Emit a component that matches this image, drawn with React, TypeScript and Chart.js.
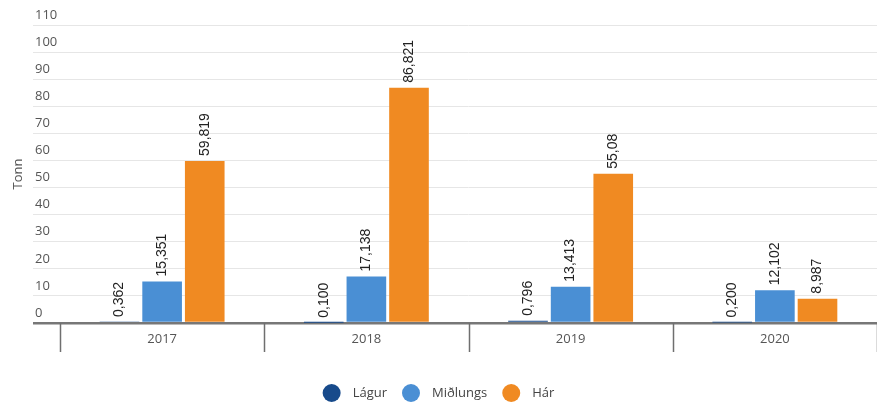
import { useEffect, useRef } from 'react';
import { Chart, registerables } from 'chart.js';

Chart.register(...registerables);

const years = ['2017', '2018', '2019', '2020'];
const seriesNames = ['Lágur', 'Miðlungs', 'Hár'];
const lagur = [0.362, 0.1, 0.796, 0.2];
const midlungs = [15.351, 17.138, 13.413, 12.102];
const har = [59.819, 86.821, 55.08, 8.987];
const lagurLabels = ['0,362', '0,100', '0,796', '0,200'];
const midlungsLabels = ['15,351', '17,138', '13,413', '12,102'];
const harLabels = ['59,819', '86,821', '55,08', '8,987'];
const yMax = 110;
const yStep = 10;
const yTitle = 'Tonn';

const colors = ['#174a8b', '#4a8fd4', '#f08a22'];
const FONT = '"Open Sans", "Noto Sans", sans-serif';

const valueLabels = [lagurLabels, midlungsLabels, harLabels];

const barLabelPlugin = {
  id: 'barLabels',
  afterDatasetsDraw(chart: any) {
    const ctx = chart.ctx;
    ctx.save();
    ctx.fillStyle = '#222';
    ctx.font = '14px "Liberation Sans", Arial, sans-serif';
    ctx.textAlign = 'left';
    ctx.textBaseline = 'middle';
    chart.data.datasets.forEach((_ds: any, i: number) => {
      const meta = chart.getDatasetMeta(i);
      meta.data.forEach((bar: any, j: number) => {
        const { x, y } = bar.getProps(['x', 'y'], true);
        ctx.save();
        ctx.translate(x, y - 5);
        ctx.rotate(-Math.PI / 2);
        ctx.fillText(valueLabels[i][j], 0, 0);
        ctx.restore();
      });
    });
    ctx.restore();
  },
};

// category separator tick marks below the axis, positioned from the x scale
const categoryTicksPlugin = {
  id: 'categoryTicks',
  afterDraw(chart: any) {
    const xs = chart.scales.x;
    const ctx = chart.ctx;
    const n = chart.data.labels.length;
    const half = (xs.getPixelForValue(1) - xs.getPixelForValue(0)) / 2;
    const top = chart.chartArea.bottom;
    ctx.save();
    ctx.strokeStyle = '#6f6f6f';
    ctx.lineWidth = 1.5;
    for (let i = 0; i <= n; i++) {
      const x = Math.round(xs.getPixelForValue(0) - half + i * 2 * half) + 0.5;
      ctx.beginPath();
      ctx.moveTo(x, top);
      ctx.lineTo(x, top + 29);
      ctx.stroke();
    }
    ctx.restore();
  },
};

const legendPlugin = {
  id: 'customLegend',
  afterDraw(chart: any) {
    const ctx = chart.ctx;
    const r = 9;
    const gap = 12;
    const itemGap = 15;
    ctx.save();
    ctx.font = `13px ${FONT}`;
    const widths = seriesNames.map((n) => ctx.measureText(n).width);
    const total = widths.reduce((a, w) => a + 2 * r + gap + w, 0) + itemGap * (seriesNames.length - 1);
    let x = chart.width / 2 - total / 2;
    const cy = 393;
    seriesNames.forEach((n, i) => {
      ctx.beginPath();
      ctx.fillStyle = colors[i];
      ctx.arc(x + r, cy, r, 0, Math.PI * 2);
      ctx.fill();
      ctx.fillStyle = '#444';
      ctx.textAlign = 'left';
      ctx.textBaseline = 'middle';
      ctx.fillText(n, x + 2 * r + gap, cy);
      x += 2 * r + gap + widths[i] + itemGap;
    });
    ctx.restore();
  },
};

export default function App() {
  const ref = useRef<HTMLCanvasElement>(null);
  useEffect(() => {
    if (!ref.current) return;
    const chart = new Chart(ref.current, {
      type: 'bar',
      data: {
        labels: years,
        datasets: [
          { label: seriesNames[0], data: lagur, backgroundColor: colors[0] },
          { label: seriesNames[1], data: midlungs, backgroundColor: colors[1] },
          { label: seriesNames[2], data: har, backgroundColor: colors[2] },
        ],
      },
      options: {
        animation: false,
        responsive: true,
        maintainAspectRatio: false,
        layout: { padding: { top: 25, bottom: 40, right: -7, left: 0 } },
        datasets: {
          bar: { categoryPercentage: 0.626, barPercentage: 0.93 },
        },
        plugins: {
          legend: { display: false },
          tooltip: { enabled: false },
        },
        scales: {
          x: {
            border: { display: false },
            grid: { display: false },
            ticks: {
              padding: 0,
              color: '#555',
              font: { family: FONT, size: 13 },
            },
            afterFit: (s: any) => {
              s.height = 40;
            },
          },
          y: {
            min: 0,
            max: yMax,
            border: { display: false },
            grid: {
              tickLength: 27,
              color: (c: any) => (c.tick && c.tick.value === 0 ? '#777' : '#e6e6e6'),
              lineWidth: (c: any) => (c.tick && c.tick.value === 0 ? 2.5 : 1),
            },
            ticks: {
              stepSize: yStep,
              mirror: true,
              padding: -25,
              labelOffset: -10,
              color: '#555',
              font: { family: FONT, size: 13 },
            },
            title: {
              display: true,
              text: yTitle,
              color: '#555',
              font: { family: FONT, size: 13 },
              padding: { top: 10, bottom: 7 },
            },
            afterFit: (s: any) => {
              s.width = 60;
            },
          },
        },
      },
      plugins: [barLabelPlugin, categoryTicksPlugin, legendPlugin],
    });
    return () => chart.destroy();
  }, []);
  return (
    <div style={{ position: 'fixed', left: 0, top: 0, width: 877, height: 403, background: '#fff' }}>
      <canvas ref={ref} />
    </div>
  );
}
